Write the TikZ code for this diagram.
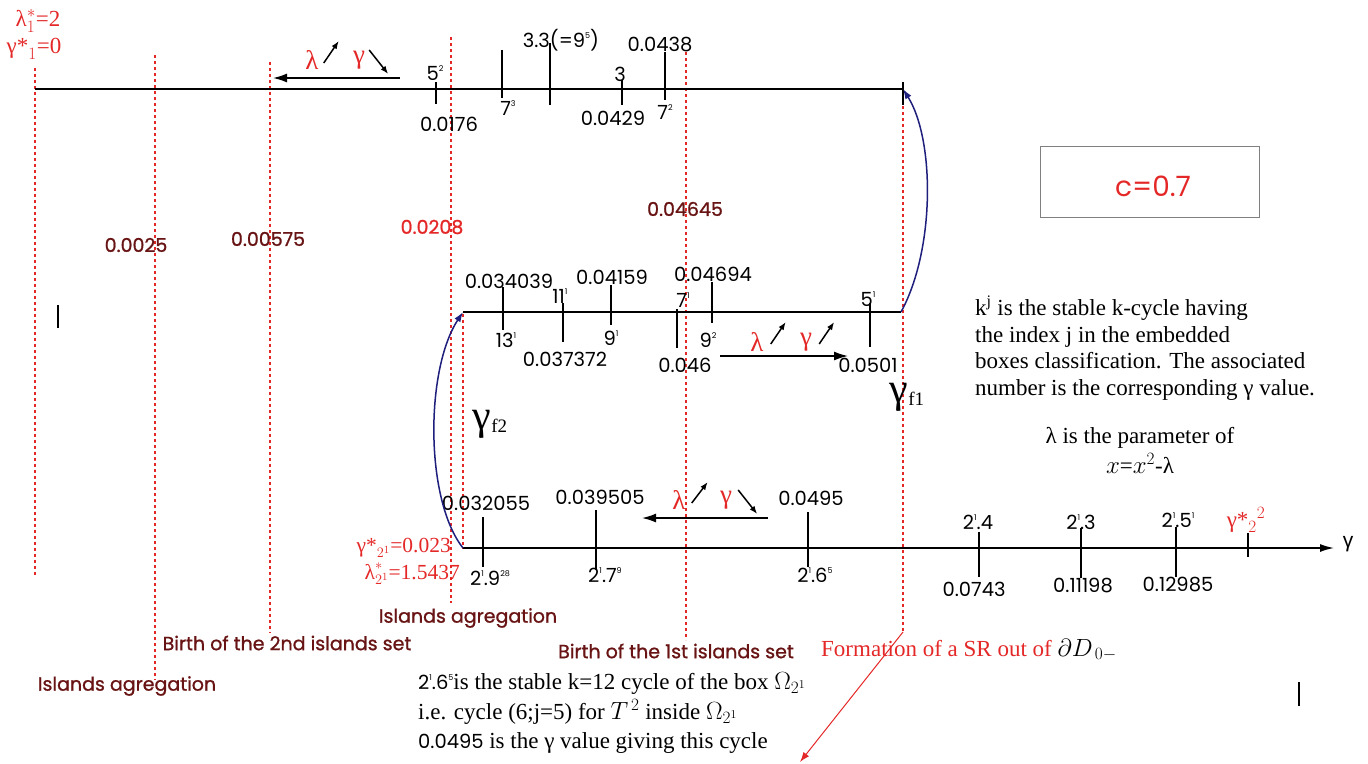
\documentclass[tikz,border=0pt]{standalone}
\usepackage{fontspec}
\setmainfont{Liberation Serif}
\newfontfamily\numfont{Poppins}
\newfontfamily\labfont[FakeBold=1]{Poppins}
\newfontfamily\axfont{Liberation Sans}
\usetikzlibrary{arrows.meta}
\definecolor{linered}{RGB}{228,40,40}
\definecolor{darkmaroon}{RGB}{105,20,20}
\definecolor{curveblue}{RGB}{30,30,125}
\newcommand\pw[1]{\raisebox{0.8ex}{\fontsize{8}{8}\selectfont #1}}

\begin{document}
\begin{tikzpicture}[x=1pt, y=-1pt,
  num/.style={font=\numfont\fontsize{19.5}{21}\selectfont, inner sep=0pt},
  lab/.style={font=\labfont\fontsize{19}{21}\selectfont, text=darkmaroon, inner sep=0pt},
  rtxt/.style={font=\fontsize{23}{25}\selectfont, text=linered, inner sep=0pt},
  greek/.style={font=\fontsize{27}{29}\selectfont, text=linered, inner sep=0pt},
  txt/.style={font=\fontsize{23}{25}\selectfont, inner sep=0pt, anchor=west},
  vline/.style={linered, line width=1.5pt, dash pattern=on 3pt off 3pt},
  axis/.style={line width=1.5pt},
  tick/.style={line width=1.3pt},
  dir/.style={line width=1.5pt, -{Latex[length=14pt,width=9pt]}},
  small/.style={line width=1.5pt, -{Latex[length=8pt,width=6pt]}},
  jump/.style={curveblue, line width=1.5pt, -{Latex[length=10pt,width=7pt]}}]
  \useasboundingbox (0,0) rectangle (1368,763);

  % linee rosse tratteggiate
  \foreach \x/\a/\b in {35/68/575, 155/55/680, 270/62/633, 451/37/603,
                        463/314/549, 686/52/640, 903/82/632}
    \draw[vline] (\x,\a) -- (\x,\b);

  % asse superiore
  \coordinate (topL) at (35,89);
  \coordinate (topR) at (903,89);
  \draw[axis] (topL) -- (topR);
  \foreach \x/\a/\b in {436/82/104, 502/50/98, 550/43/105, 622/80/105,
                        665/52/100, 903/82/105}
    \draw[tick] (\x,\a) -- (\x,\b);

  \node[rtxt] (lam1) at (38,21) {$\mbox{λ}^{*}_{1}$=2};
  \node[rtxt] (gam1) at (34,49) {$\mbox{γ*}_{1}$=0};
  \node[num] (n52) at (435,73) {5\pw{2}};
  \node[num] (n0176) at (449,124) {0.0176};
  \node[num] (n73) at (508,108) {7\pw{3}};
  \node[num] (n33) at (561,40) {3.3(=9\pw{5})};
  \node[num] (n3) at (620,74) {3};
  \node[num] (n0429) at (613,118) {0.0429};
  \node[num] (n0438) at (660,45) {0.0438};
  \node[num] (n72) at (665,112) {7\pw{2}};

  \coordinate (topA) at (400,78);
  \coordinate (topB) at (273,78);
  \draw[dir] (topA) -- (topB);
  \node[greek] (tl) at (312,60) {λ};
  \node[greek] (tg) at (359,60) {γ};
  \draw[small] ([shift={(5,3)}]tl.east) -- ++(15,-22);
  \draw[small] ([shift={(4,-10)}]tg.east) -- ++(19,24);

  % asse centrale
  \coordinate (midL) at (463,312);
  \coordinate (midR) at (901,312);
  \draw[axis] (midL) -- (midR);
  \foreach \x/\a/\b in {503/287/330, 563/303/342, 611/285/325, 677/309/348,
                        712/282/323, 870/303/347}
    \draw[tick] (\x,\a) -- (\x,\b);

  \node[num] (m1) at (509,281) {0.034039};
  \node[num] (m2) at (506,340) {13\pw{1}};
  \node[num] (m3) at (560,296) {11\pw{1}};
  \node[num] (m4) at (565,359) {0.037372};
  \node[num] (m5) at (612,277) {0.04159};
  \node[num] (m6) at (611,338) {9\pw{1}};
  \node[num] (m7) at (683,300) {7\pw{1}};
  \node[num] (m8) at (685,365) {0.046};
  \node[num] (m9) at (713,274) {0.04694};
  \node[num] (m10) at (708,340) {9\pw{2}};
  \node[num] (m11) at (868,299) {5\pw{1}};
  \node[num] (m12) at (868,365) {0.0501};

  \coordinate (midA) at (720,356);
  \coordinate (midB) at (848,356);
  \draw[dir] (midA) -- (midB);
  \node[greek] (ml) at (757,342) {λ};
  \node[greek] (mg) at (806,342) {γ};
  \draw[small] ([shift={(7,2)}]ml.east) -- ++(15,-22);
  \draw[small] ([shift={(7,2)}]mg.east) -- ++(15,-22);

  \node[inner sep=0pt, font=\fontsize{42}{42}\selectfont] (gf1) at (907,397)
    {γ\raisebox{-0.15ex}{\fontsize{19}{19}\selectfont f1}};
  \node[inner sep=0pt, font=\fontsize{42}{42}\selectfont] (gf2) at (490,424)
    {γ\raisebox{-0.15ex}{\fontsize{19}{19}\selectfont f2}};

  % asse inferiore
  \coordinate (botL) at (463,548);
  \coordinate (botR) at (1334,548);
  \draw[axis, -{Latex[length=14pt,width=8pt]}] (botL) -- (botR);
  \node[font=\axfont\fontsize{21}{22}\selectfont, inner sep=0pt] (gax) at (1348,544) {γ};
  \foreach \x/\a/\b in {483/517/567, 596/510/570, 808/512/567, 979/532/577,
                        1081/528/578, 1176/527/577, 1248/533/557}
    \draw[tick] (\x,\a) -- (\x,\b);

  \node[rtxt, anchor=east, align=right, font=\fontsize{21.5}{27}\selectfont] (star2) at (460,561)
    {$\mbox{γ*}_{2^{1}}$=0.023\hspace*{9pt}\\ $\mbox{λ}^{*}_{2^{1}}$=1.5437};
  \node[num] (b1) at (486,503) {0.032055};
  \node[num] (b2) at (490,578) {2\pw{1}.9\pw{28}};
  \node[num] (b3) at (600,497) {0.039505};
  \node[num] (b4) at (605,575) {2\pw{1}.7\pw{9}};
  \node[num] (b5) at (811,498) {0.0495};
  \node[num] (b6) at (815,575) {2\pw{1}.6\pw{5}};
  \node[num] (b7) at (978,522) {2\pw{1}.4};
  \node[num] (b8) at (974,589) {0.0743};
  \node[num] (b9) at (1081,522) {2\pw{1}.3};
  \node[num] (b10) at (1083,586) {0.11198};
  \node[num] (b11) at (1178,520) {2\pw{1}.5\pw{1}};
  \node[num] (b12) at (1178,585) {0.12985};
  \node[rtxt] (b13) at (1246,520) {$\mbox{γ*}_{2}{}^{2}$};

  \coordinate (botA) at (768,518);
  \coordinate (botB) at (642,518);
  \draw[dir] (botA) -- (botB);
  \node[greek] (bl) at (679,500) {λ};
  \node[greek] (bg) at (726,500) {γ};
  \draw[small] ([shift={(6,3)}]bl.east) -- ++(16,-21);
  \draw[small] ([shift={(6,-10)}]bg.east) -- ++(19,24);

  % archi blu
  \draw[jump] (midR) .. controls (935,250) and (935,140) .. (topR);
  \draw[jump] (botL) .. controls (425,500) and (425,370) .. (midL);

  % valori di gamma
  \node[lab] (v1) at (136,245) {0.0025};
  \node[lab] (v2) at (268,239) {0.00575};
  \node[lab, text=linered] (v3) at (432,227) {0.0208};
  \node[lab] (v4) at (685,209) {0.04645};

  % didascalie
  \node[lab] (c1) at (127,686) {Islands agregation};
  \node[lab] (c2) at (287,643) {Birth of the 2nd islands set};
  \node[lab] (c3) at (468,618) {Islands agregation};
  \node[lab] (c4) at (676,651) {Birth of the 1st islands set};
  \node[rtxt, anchor=west] (form) at (821,650)
    {Formation of a SR out of \textcolor{black}{$\partial D_{\,0-}$}};
  \coordinate (srA) at (903,632);
  \coordinate (srB) at (800,762);
  \draw[linered, line width=1pt, -{Latex[length=10pt,width=7pt]}] (srA) -- (srB);

  % riquadro c
  \draw[gray, line width=0.8pt] (1040,146) rectangle (1259,217);
  \node[font=\numfont\fontsize{28}{30}\selectfont, text=linered, inner sep=0pt]
    (cval) at (1153,186) {c=0.7};

  % legenda
  \node[txt, align=left, font=\fontsize{23}{26.5}\selectfont] (leg) at (975,348)
    {k\textsuperscript{j} is the stable k-cycle having\\
     the index j in the embedded\\
     boxes classification. The associated\\
     number is the corresponding γ value.};
  \node[txt, anchor=center] (par1) at (1140,438) {λ is the parameter of};
  \node[txt, anchor=center] (par2) at (1140,463) {$x$=$x^{2}$-λ};

  \node[txt] (e1) at (418,683)
    {{\numfont\fontsize{19.5}{21}\selectfont 2\pw{1}.6\pw{5}}is the stable k=12 cycle of the box $\Omega_{2^{1}}$};
  \node[txt] (e2) at (418,712) {i.e. cycle (6;j=5) for $T^{\,2}$ inside $\Omega_{2^{1}}$};
  \node[txt] (e3) at (418,743)
    {{\numfont\fontsize{19.5}{21}\selectfont 0.0495} is the γ value giving this cycle};

  % trattini isolati
  \draw[tick] (58,305) -- (58,328);
  \draw[tick] (1299,682) -- (1299,706);
\end{tikzpicture}
\end{document}
